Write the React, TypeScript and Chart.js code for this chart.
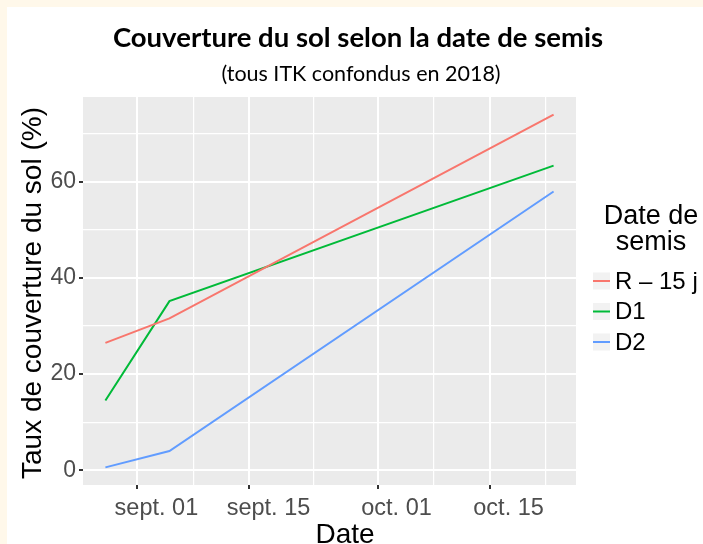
import { useEffect, useRef } from 'react';
import { Chart, registerables } from 'chart.js';

Chart.register(...registerables);

// ---- data ----
const sowingDates = ['2018-08-28', '2018-09-05', '2018-10-23'];
const seriesLabels = ['R – 15 j', 'D1', 'D2'];
const seriesColors = ['#F8766D', '#00BA38', '#619CFF'];
const valuesR15 = [26.5, 31.6, 74.0];
const valuesD1 = [14.5, 35.2, 63.4];
const valuesD2 = [0.6, 4.0, 58.0];
const xMajorDates = ['2018-09-01', '2018-09-15', '2018-10-01', '2018-10-15'];
const xMajorLabels = ['sept. 01', 'sept. 15', 'oct. 01', 'oct. 15'];
const xMinorDates = ['2018-09-08', '2018-09-23', '2018-10-08', '2018-10-22'];
const yMajorTicks = [0, 20, 40, 60];
const yMinorTicks = [10, 30, 50, 70];

const titleText = 'Couverture du sol selon la date de semis';
const subtitleText = '(tous ITK confondus en 2018)';
const xTitle = 'Date';
const yTitle = 'Taux de couverture du sol (%)';
const legendTitle = ['Date de', 'semis'];

const toDay = (s: string) => {
  const [y, m, d] = s.split('-').map(Number);
  return Date.UTC(y, m - 1, d) / 86400000;
};

const FONT = '"Liberation Sans", Arial, sans-serif';
const W = 703;
const H = 544;

export default function App() {
  const ref = useRef<HTMLCanvasElement | null>(null);

  useEffect(() => {
    document.body.style.margin = '0';
    const canvas = ref.current;
    if (!canvas) return;

    const xs = sowingDates.map(toDay);
    const allSeries = [valuesR15, valuesD1, valuesD2];
    const xMinD = Math.min(...xs);
    const xMaxD = Math.max(...xs);
    const xr = xMaxD - xMinD;
    const allVals = allSeries.flat();
    const yMinD = Math.min(...allVals);
    const yMaxD = Math.max(...allVals);
    const yr = yMaxD - yMinD;

    const xMajor = xMajorDates.map(toDay);
    const xMinor = xMinorDates.map(toDay);

    const bgPlugin = {
      id: 'bg',
      beforeDraw(chart: any) {
        const { ctx, chartArea } = chart;
        ctx.save();
        ctx.fillStyle = '#FFF8EA';
        ctx.fillRect(0, 0, W, H);
        ctx.fillStyle = '#FFFFFF';
        ctx.fillRect(7, 7, W - 7, H - 7);
        ctx.fillStyle = '#EBEBEB';
        ctx.fillRect(chartArea.left, chartArea.top, chartArea.right - chartArea.left, chartArea.bottom - chartArea.top);
        ctx.restore();
      },
    };

    const textPlugin = {
      id: 'texts',
      afterDraw(chart: any) {
        const { ctx } = chart;
        ctx.save();
        ctx.fillStyle = '#000';
        ctx.textAlign = 'center';
        ctx.textBaseline = 'alphabetic';
        ctx.font = 'bold 27.5px Lato, "Open Sans", sans-serif';
        ctx.fillText(titleText, 358, 47);
        ctx.font = '21.5px Lato, "Open Sans", sans-serif';
        ctx.fillText(subtitleText, 361, 81);

        // axis titles
        ctx.font = `28px ${FONT}`;
        ctx.fillText(xTitle, 345, 543);
        ctx.save();
        ctx.translate(33, 293);
        ctx.rotate(-Math.PI / 2);
        ctx.textBaseline = 'middle';
        ctx.fillText(yTitle, 0, 0);
        ctx.restore();

        // legend
        ctx.font = `27px ${FONT}`;
        ctx.textAlign = 'center';
        ctx.fillText(legendTitle[0], 651, 224);
        ctx.fillText(legendTitle[1], 651, 250);
        chart.data.datasets.forEach((ds: any, i: number) => {
          const cy = 281 + i * 30.5;
          ctx.fillStyle = '#F2F2F2';
          ctx.fillRect(593, cy - 8.5, 17, 17);
          ctx.strokeStyle = ds.borderColor;
          ctx.lineWidth = 2;
          ctx.beginPath();
          ctx.moveTo(593, cy);
          ctx.lineTo(610, cy);
          ctx.stroke();
          ctx.fillStyle = '#000';
          ctx.textAlign = 'left';
          ctx.textBaseline = 'middle';
          ctx.font = `24px ${FONT}`;
          ctx.fillText(ds.label, 615, cy + 1);
        });
        ctx.restore();
      },
    };

    const chart = new Chart(canvas, {
      type: 'line',
      data: {
        datasets: allSeries.map((vals, i) => ({
          label: seriesLabels[i],
          data: vals.map((v, j) => ({ x: xs[j], y: v })),
          borderColor: seriesColors[i],
          backgroundColor: seriesColors[i],
          borderWidth: 2,
          pointRadius: 0,
          fill: false,
          tension: 0,
        })),
      },
      options: {
        animation: false,
        responsive: false,
        devicePixelRatio: 1,
        layout: { padding: { left: 0, right: W - 576, top: 97, bottom: 0 } },
        plugins: {
          legend: { display: false },
          title: { display: false },
          tooltip: { enabled: false },
        },
        scales: {
          x: {
            type: 'linear',
            min: xMinD - 0.05 * xr,
            max: xMaxD + 0.05 * xr,
            afterBuildTicks: (s: any) => {
              s.ticks = [...xMajor, ...xMinor].sort((a, b) => a - b).map((v) => ({ value: v }));
            },
            afterFit: (s: any) => {
              s.height = H - 485;
            },
            ticks: {
              autoSkip: false,
              maxRotation: 0,
              padding: 5,
              labelOffset: 19,
              color: '#4D4D4D',
              font: { family: FONT, size: 23.5 },
              callback: (v: any) => {
                const k = xMajor.indexOf(Number(v));
                return k >= 0 ? xMajorLabels[k] : '';
              },
            },
            grid: {
              color: '#FFFFFF',
              lineWidth: (c: any) => (xMajor.includes(c.tick?.value) ? 2 : 1.2),
              tickLength: 4,
              tickWidth: 2,
              tickColor: (c: any) => (xMajor.includes(c.tick?.value) ? '#333333' : 'rgba(0,0,0,0)'),
            },
            border: { display: false },
          },
          y: {
            type: 'linear',
            min: yMinD - 0.05 * yr,
            max: yMaxD + 0.05 * yr,
            afterBuildTicks: (s: any) => {
              s.ticks = [...yMajorTicks, ...yMinorTicks].sort((a, b) => a - b).map((v) => ({ value: v }));
            },
            afterFit: (s: any) => {
              s.width = 83;
            },
            ticks: {
              autoSkip: false,
              padding: 3,
              color: '#4D4D4D',
              font: { family: FONT, size: 23 },
              callback: (v: any) => (yMajorTicks.includes(Number(v)) ? String(v) : ''),
            },
            grid: {
              color: '#FFFFFF',
              lineWidth: (c: any) => (yMajorTicks.includes(c.tick?.value) ? 2 : 1.2),
              tickLength: 4,
              tickWidth: 2,
              tickColor: (c: any) => (yMajorTicks.includes(c.tick?.value) ? '#333333' : 'rgba(0,0,0,0)'),
            },
            border: { display: false },
          },
        },
      },
      plugins: [bgPlugin, textPlugin],
    });

    return () => chart.destroy();
  }, []);

  return <canvas ref={ref} width={W} height={H} style={{ display: 'block', width: W, height: H }} />;
}
